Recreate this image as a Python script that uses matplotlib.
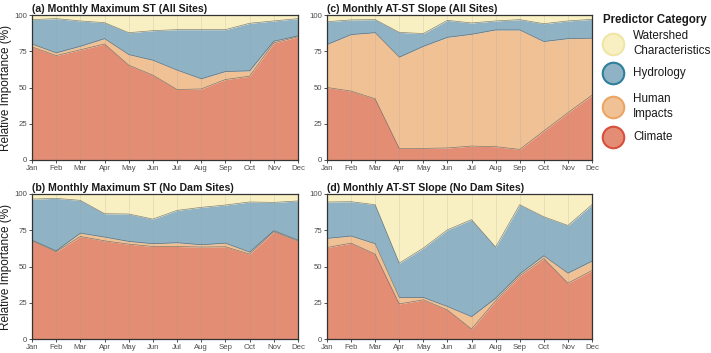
import matplotlib
matplotlib.use("Agg")
import matplotlib.pyplot as plt
from matplotlib.lines import Line2D
import numpy as np

plt.rcParams['font.family'] = ['Liberation Sans', 'DejaVu Sans']

months = ["Jan", "Feb", "Mar", "Apr", "May", "Jun", "Jul", "Aug", "Sep", "Oct", "Nov", "Dec"]
categories = ["Climate", "Human Impacts", "Hydrology", "Watershed Characteristics"]

# cumulative tops (%): climate, +human, +hydrology; watershed fills to 100
a_climate = [78, 72, 76, 80, 65.4, 58.5, 48.6, 49, 55.5, 57.8, 80.7, 85]
a_human_top = [80, 73.9, 78.4, 83.7, 72.7, 68.8, 62, 56, 61, 61.5, 81.9, 85.6]
a_hydro_top = [96.8, 97.5, 95.9, 94.7, 87.8, 89.2, 89.9, 89.9, 89.9, 94.3, 95.9, 97.5]

b_climate = [67.7, 60.1, 70.7, 67.7, 65.4, 63.8, 63.8, 63.4, 63.6, 58.5, 74, 67.5]
b_human_top = [68.2, 60.8, 73, 70.3, 67.3, 65.7, 66.4, 65, 66.1, 59.9, 74.7, 68.2]
b_hydro_top = [96.5, 97, 95.6, 86.4, 86.2, 82.7, 88.7, 90.8, 92.4, 94.5, 94.2, 95.2]

c_climate = [50, 47.5, 42.2, 8, 8, 8.3, 9.6, 9.2, 7.3, 20, 32.6, 44.7]
c_human_top = [79.6, 86.5, 87.8, 70.9, 78.4, 84.6, 86.7, 89.7, 89.7, 81.7, 83.7, 84]
c_hydro_top = [95.4, 96.6, 96.8, 88, 87.2, 96.3, 94.5, 95.9, 96.8, 94, 95.9, 97]

d_climate = [63.1, 66.1, 58.5, 24.2, 27, 20, 6.9, 26.3, 43.5, 55.5, 38.5, 47.2]
d_human_top = [69.4, 71, 65.7, 28.6, 28.6, 22.4, 15.4, 28.1, 44.9, 57.4, 45.4, 53.7]
d_hydro_top = [94.5, 94.7, 92.6, 52.3, 62.7, 75.3, 82.3, 63.4, 92.6, 84.3, 78.3, 92.6]

titles = ["(a) Monthly Maximum ST (All Sites)", "(b) Monthly Maximum ST (No Dam Sites)",
          "(c) Monthly AT-ST Slope (All Sites)", "(d) Monthly AT-ST Slope (No Dam Sites)"]

fill_colors = {"Climate": "#E38D74", "Human Impacts": "#F0C194",
               "Hydrology": "#8FB3C5", "Watershed Characteristics": "#F8F0C2"}
edge_colors = {"Climate": "#D94F3D", "Human Impacts": "#EBA566",
               "Hydrology": "#2E7F9C", "Watershed Characteristics": "#EFE6A6"}

W, H = 711, 353
fig = plt.figure(figsize=(W / 100, H / 100), dpi=100)

def px_axes(x0, y0, x1, y1):
    return fig.add_axes([x0 / W, 1 - y1 / H, (x1 - x0) / W, (y1 - y0) / H])

panels = [
    (px_axes(32, 15, 298, 160), titles[0], a_climate, a_human_top, a_hydro_top, True),
    (px_axes(32, 194, 298, 339), titles[1], b_climate, b_human_top, b_hydro_top, True),
    (px_axes(327, 15, 592, 160), titles[2], c_climate, c_human_top, c_hydro_top, False),
    (px_axes(327, 194, 592, 339), titles[3], d_climate, d_human_top, d_hydro_top, False),
]

x = np.arange(1, 13)
for ax, title, clim, hum, hyd, ylab in panels:
    clim = np.array(clim); hum = np.array(hum); hyd = np.array(hyd)
    top = np.full(12, 100.0)
    layers = [(np.zeros(12), clim, "Climate"), (clim, hum, "Human Impacts"),
              (hum, hyd, "Hydrology"), (hyd, top, "Watershed Characteristics")]
    for lo, hi, name in layers:
        ax.fill_between(x, lo, hi, color=fill_colors[name], linewidth=0, zorder=1)
    for line in (clim, hum, hyd):
        ax.plot(x, line, color="#555555", lw=0.5, alpha=0.7, zorder=2)
    for xi in x:
        ax.axvline(xi, color="#9a9a9a", lw=0.4, alpha=0.35, zorder=1.5)
    ax.set_xlim(1, 12)
    ax.set_ylim(0, 100)
    ax.set_xticks(x)
    ax.set_xticklabels(months)
    ax.set_yticks([0, 25, 50, 75, 100])
    ax.tick_params(axis="both", labelsize=5.6, colors="#333333", labelcolor="#4D4D4D",
                   length=2.2, width=0.6, pad=1.2)
    for s in ax.spines.values():
        s.set_color("#333333")
        s.set_linewidth(0.9)
        s.set_zorder(5)
    ax.set_title(title, fontsize=7.6, fontweight="bold", loc="left", pad=2.5, color="#1a1a1a")
    if ylab:
        ax.set_ylabel("Relative Importance (%)", fontsize=8.5, color="#1a1a1a", labelpad=1.5)

# Legend
fig.text(603 / W, 1 - 20 / H, "Predictor Category", fontsize=8.3, fontweight="bold",
         ha="left", va="center", color="#1a1a1a")
leg_items = [("Watershed Characteristics", 44, ["Watershed", "Characteristics"]),
             ("Hydrology", 73, ["Hydrology"]),
             ("Human Impacts", 107, ["Human", "Impacts"]),
             ("Climate", 137, ["Climate"])]
for name, yc, lines in leg_items:
    fig.add_artist(Line2D([613 / W], [1 - yc / H], marker="o", markersize=15.5,
                          markerfacecolor=fill_colors[name], markeredgecolor=edge_colors[name],
                          markeredgewidth=1.5, linestyle="none", transform=fig.transFigure))
    if len(lines) == 1:
        fig.text(633 / W, 1 - yc / H, lines[0], fontsize=8.4, ha="left", va="center", color="#1a1a1a")
    else:
        fig.text(633 / W, 1 - (yc - 8) / H, lines[0], fontsize=8.4, ha="left", va="center", color="#1a1a1a")
        fig.text(633 / W, 1 - (yc + 7) / H, lines[1], fontsize=8.4, ha="left", va="center", color="#1a1a1a")

fig.savefig("out.png", dpi=100)
